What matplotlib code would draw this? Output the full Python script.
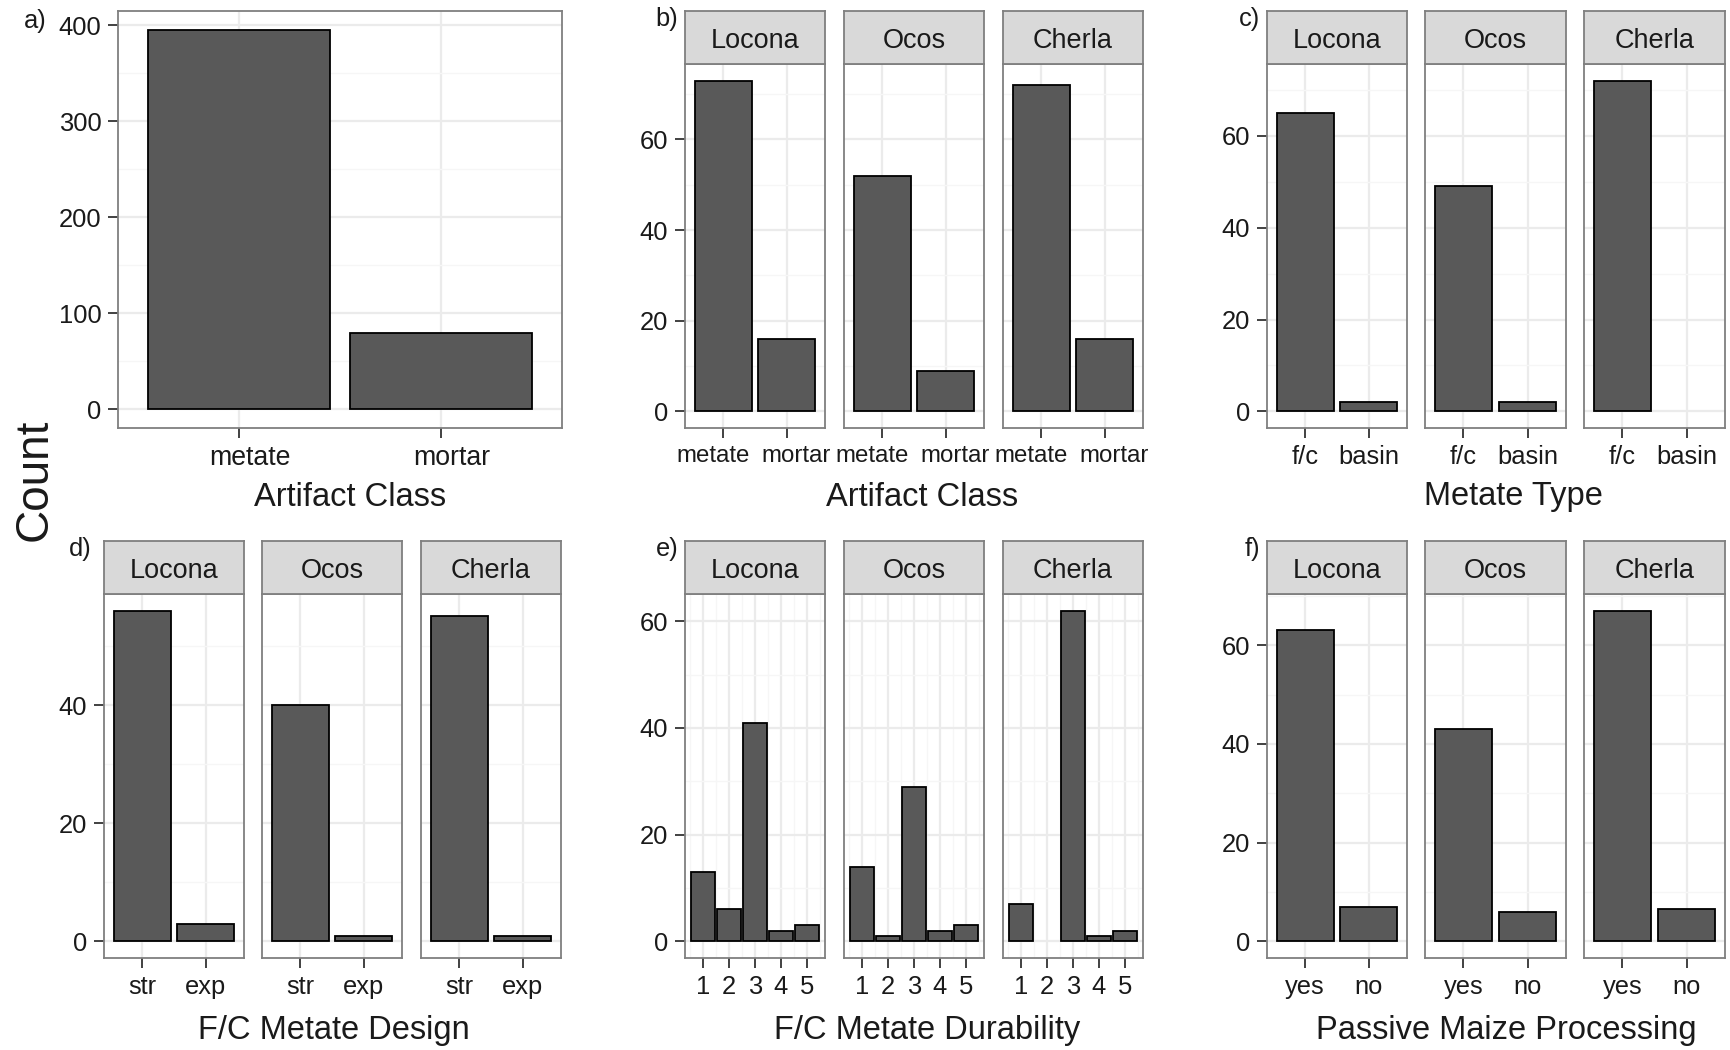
import numpy as np
import matplotlib
matplotlib.use("Agg")
import matplotlib.pyplot as plt
import matplotlib.transforms as mtransforms
from matplotlib.ticker import MultipleLocator, FixedLocator

plt.rcParams['font.family'] = ['Liberation Sans', 'DejaVu Sans']

# ---- counts ----
sites = ["Locona", "Ocos", "Cherla"]

class_labels = ["metate", "mortar"]
class_total = [395, 79]
class_by_site = [[73, 16], [52, 9], [72, 16]]

type_labels = ["f/c", "basin"]
type_by_site = [[65, 2], [49, 2], [72, 0]]

design_labels = ["str", "exp"]
design_by_site = [[56, 3], [40, 1], [55, 1]]

durability_levels = [1, 2, 3, 4, 5]
durability_by_site = [[13, 6, 41, 2, 3], [14, 1, 29, 2, 3], [7, 0, 62, 1, 2]]

passive_labels = ["yes", "no"]
passive_by_site = [[63, 7], [43, 6], [67, 6.5]]

# ---- look ----
W, H = 1730, 1050
BAR = "#595959"
BORDER = "#7F7F7F"
STRIP = "#D9D9D9"
TXT = "#1A1A1A"
TICK_FS = 18.4
STRIP_FS = 19.5
TITLE_FS = 23.5

fig = plt.figure(figsize=(W / 100, H / 100), dpi=100)
fig.patch.set_facecolor("white")


def px_axes(x0, y0, x1, y1):
    return fig.add_axes([x0 / W, 1 - y1 / H, (x1 - x0) / W, (y1 - y0) / H])


def style(ax, ymax, ystep, show_y, fs=TICK_FS):
    ax.set_facecolor("white")
    for s in ax.spines.values():
        s.set_color(BORDER)
        s.set_linewidth(1.3)
    ax.set_ylim(-0.05 * ymax, 1.05 * ymax)
    ax.yaxis.set_major_locator(MultipleLocator(ystep))
    ax.yaxis.set_minor_locator(MultipleLocator(ystep / 2))
    ax.grid(True, which="major", color="#EBEBEB", linewidth=1.6, zorder=0)
    ax.grid(True, which="minor", axis="y", color="#F6F6F6", linewidth=1.0, zorder=0)
    ax.set_axisbelow(True)
    ax.tick_params(which="major", length=7, width=1.3, color="#333333",
                   labelsize=TICK_FS, labelcolor=TXT, pad=5)
    ax.tick_params(axis="x", labelsize=fs)
    ax.tick_params(which="minor", length=0)
    if not show_y:
        ax.tick_params(axis="y", which="both", length=0, labelleft=False)


def nudge_xlabels(ax, shifts):
    # horizontal offsets (pixels) for the category labels
    for lab, dx in zip(ax.get_xticklabels(), shifts):
        lab.set_transform(lab.get_transform() +
                          mtransforms.ScaledTranslation(dx / 100, 0, fig.dpi_scale_trans))


def strip(x0, x1, y0, y1, label):
    sax = px_axes(x0, y0, x1, y1)
    sax.set_facecolor(STRIP)
    sax.set_xticks([])
    sax.set_yticks([])
    for s in sax.spines.values():
        s.set_color(BORDER)
        s.set_linewidth(1.3)
    sax.text(0.5, 0.43, label, ha="center", va="center", fontsize=STRIP_FS,
             color=TXT, transform=sax.transAxes)


def discrete_bars(ax, labels, counts):
    pos = np.arange(1, len(labels) + 1)
    for p, c in zip(pos, counts):
        if c > 0:
            ax.bar(p, c, width=0.9, color=BAR, edgecolor="black", linewidth=1.3, zorder=3)
    ax.set_xlim(0.4, len(labels) + 0.6)
    ax.set_xticks(pos)
    ax.set_xticklabels(labels)


def faceted(cols, strip_top, strip_bot, plot_bot, labels, data, ystep,
            continuous=False, fs=TICK_FS, shifts=None):
    ymax = max(max(row) for row in data)
    for i, (x0, x1) in enumerate(cols):
        ax = px_axes(x0, strip_bot, x1, plot_bot)
        style(ax, ymax, ystep, i == 0, fs)
        if continuous:
            for lvl, c in zip(labels, data[i]):
                if c > 0:
                    ax.bar(lvl, c, width=0.9, color=BAR, edgecolor="black",
                           linewidth=1.3, zorder=3)
            span = (max(labels) + 0.45) - (min(labels) - 0.45)
            ax.set_xlim(min(labels) - 0.45 - 0.05 * span, max(labels) + 0.45 + 0.05 * span)
            ax.set_xticks(labels)
            ax.xaxis.set_minor_locator(FixedLocator(np.arange(0.5, 6.0, 1.0)))
            ax.grid(True, which="minor", axis="x", color="#F6F6F6", linewidth=1.0, zorder=0)
        else:
            discrete_bars(ax, labels, data[i])
        if shifts:
            nudge_xlabels(ax, shifts)
        strip(x0, x1, strip_top, strip_bot, sites[i])


col1 = [(104, 244), (262, 402), (421, 561)]
col2 = [(685, 825), (844, 984), (1003, 1143)]
col3 = [(1267, 1407), (1425, 1566), (1584, 1725)]

# a) all sites pooled
ax_a = px_axes(118, 11, 562, 428)
style(ax_a, max(class_total), 100, True, fs=19.2)
discrete_bars(ax_a, class_labels, class_total)
nudge_xlabels(ax_a, [11, 11])

# b) - f) faceted by phase
faceted(col2, 11, 64, 428, class_labels, class_by_site, 20, fs=17.3, shifts=[-10, 9])
faceted(col3, 11, 64, 428, type_labels, type_by_site, 20)
faceted(col1, 541, 594, 958, design_labels, design_by_site, 20)
faceted(col2, 541, 594, 958, durability_levels, durability_by_site, 20, continuous=True)
faceted(col3, 541, 594, 958, passive_labels, passive_by_site, 20)

# axis titles
titles = [
    (350, 497, "Artifact Class"),
    (922, 497, "Artifact Class"),
    (1513, 497, "Metate Type"),
    (334, 1031, "F/C Metate Design"),
    (927, 1031, "F/C Metate Durability"),
    (1506, 1031, "Passive Maize Processing"),
]
for x, y, t in titles:
    fig.text(x / W, 1 - y / H, t, ha="center", va="center", fontsize=TITLE_FS, color=TXT)

fig.text(35 / W, 1 - 480 / H, "Count", rotation=90, ha="center", va="center",
         fontsize=33, color=TXT)

# panel tags
tags = [(35, 21, "a)"), (667, 19, "b)"), (1249, 19, "c)"),
        (80, 549, "d)"), (667, 549, "e)"), (1252, 549, "f)")]
for x, y, t in tags:
    fig.text(x / W, 1 - y / H, t, ha="center", va="center", fontsize=TICK_FS, color=TXT)

fig.savefig("out.png", dpi=100, facecolor="white")
